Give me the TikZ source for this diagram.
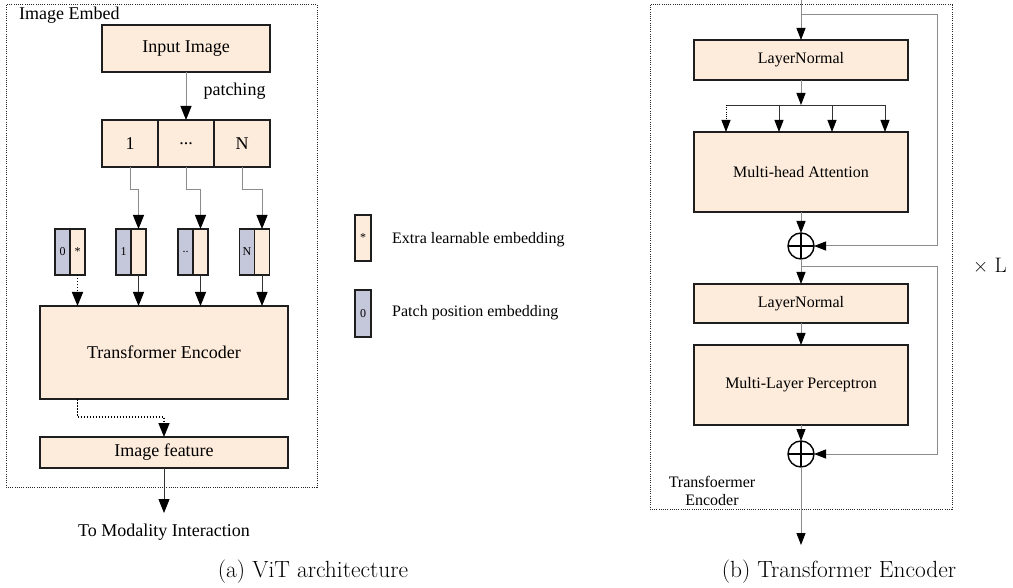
\documentclass[tikz,border=0pt]{standalone}
\usepackage{fontspec}
\setmainfont{Liberation Serif}
\newfontfamily\capfont{Latin Modern Roman}
\usetikzlibrary{arrows.meta}

\definecolor{peach}{HTML}{FDEBDB}
\definecolor{slate}{HTML}{C5C7DA}
\definecolor{edge}{HTML}{1E1E1E}
\definecolor{wire}{HTML}{8C8C8C}

\tikzset{
  box/.style={draw=edge, line width=1.5pt, fill=peach, inner sep=0pt, outer sep=0pt,
    font=\fontsize{18}{20}\selectfont},
  rbox/.style={box, minimum width=214pt, font=\fontsize{16}{18}\selectfont},
  tok/.style={draw=edge, line width=1.3pt, inner sep=0pt, outer sep=0pt,
    minimum width=15pt, minimum height=46pt, font=\fontsize{12}{14}\selectfont},
  tokg/.style={tok, fill=slate},
  tokp/.style={tok, fill=peach},
  frame/.style={draw=black!85, line width=1pt, dash pattern=on 1pt off 1.2pt},
  bigtip/.style={-{Triangle[width=11pt,length=14pt,color=black]}},
  tip/.style={-{Triangle[width=9pt,length=12pt,color=black]}},
  flow/.style={draw=wire, line width=1pt},
  link/.style={draw=black!80, line width=0.9pt},
  dotlink/.style={draw=black, line width=1.6pt, dash pattern=on 1.5pt off 1.5pt},
  thindot/.style={draw=black, line width=1pt, dash pattern=on 1pt off 1.2pt},
  plus/.style={circle, draw=black, line width=1.4pt, minimum size=26pt, inner sep=0pt,
    outer sep=0pt, path picture={
      \draw[line width=1.4pt] (path picture bounding box.north) -- (path picture bounding box.south)
        (path picture bounding box.west) -- (path picture bounding box.east);}},
  txt/.style={inner sep=0pt, font=\fontsize{18}{20}\selectfont},
  stxt/.style={inner sep=0pt, font=\fontsize{16}{18}\selectfont},
  captxt/.style={inner sep=0pt, font=\capfont\fontsize{23.4}{26}\selectfont},
  reptxt/.style={inner sep=0pt, font=\capfont\fontsize{21}{24}\selectfont},
}

\begin{document}
\begin{tikzpicture}[x=1pt, y=-1pt]
\useasboundingbox (0,0) rectangle (1013,588);

% ---------------- ViT: image embedding ----------------
\draw[frame] (6,5) rectangle (317,487);
\node[txt, anchor=base west] (embedlbl) at (19,20) {Image Embed};

\node[box, minimum width=168pt, minimum height=47pt] (input) at (186,48.5) {Input Image};

\node[box, minimum width=56pt, minimum height=47pt] (p1) at (130,143.5) {1};
\node[box, minimum width=56pt, minimum height=47pt] (pd) at (186,143.5) {...};
\node[box, minimum width=56pt, minimum height=47pt] (pN) at (242,143.5) {N};

\draw[flow, bigtip] (input.south) -- (pd.north);
\node[txt] (patchlbl) at (234.5,91) {patching};

% tokens: position half + patch half
\node[tokg] (t0g) at (62.5,252) {0};
\node[tokp] (t0p) at (77.5,252) {*};
\node[tokg] (t1g) at (123.5,252) {1};
\node[tokp] (t1p) at (138.5,252) {};
\node[tokg] (tdg) at (185.5,252) {..};
\node[tokp] (tdp) at (200.5,252) {};
\node[tokg] (tNg) at (247,252) {N};
\node[tokp] (tNp) at (262,252) {};

\draw[flow, bigtip] (p1.south) -- (130,190) -| (t1p.north);
\draw[flow, bigtip] (pd.south) -- (186,190) -| (tdp.north);
\draw[flow, bigtip] (pN.south) -- (242,190) -| (tNp.north);

\node[box, minimum width=248pt, minimum height=93pt] (te) at (164,352.5) {Transformer Encoder};

\draw[dotlink, bigtip] (t0p.south) -- (t0p.south |- te.north);
\draw[link, bigtip] (t1p.south) -- (t1p.south |- te.north);
\draw[link, bigtip] (tdp.south) -- (tdp.south |- te.north);
\draw[link, bigtip] (tNp.south) -- (tNp.south |- te.north);

\node[box, minimum width=248pt, minimum height=31pt] (imgf) at (164,452.5) {Image feature};
\draw[dotlink, bigtip] (t0p.south |- te.south) -- ++(0,18) -| (imgf.north);

\coordinate (out) at (164,513);
\draw[link, bigtip] (imgf.south) -- (out);
\node[txt] (dest) at (164,532) {To Modality Interaction};

% ---------------- legend ----------------
\node[tokp, minimum width=16pt] (lgp) at (363,238) {*};
\node[txt, stxt, anchor=west] (lgptxt) at (392,240) {Extra learnable embedding};
\node[tokg, minimum width=16pt, minimum height=47pt] (lgg) at (363,313.5) {0};
\node[txt, stxt, anchor=west] (lggtxt) at (392,313) {Patch position embedding};

% ---------------- Transformer encoder block ----------------
\draw[frame] (650,5) rectangle (952,509);

\coordinate (entry) at (801,0);
\node[rbox, minimum height=40pt] (ln1) at (801,60) {LayerNormal};
\node[rbox, minimum height=80pt] (mha) at (801,172) {Multi-head Attention};
\node[plus] (add1) at (801,246) {};
\node[rbox, minimum height=39pt] (ln2) at (801,303.5) {LayerNormal};
\node[rbox, minimum height=80pt] (mlp) at (801,385) {Multi-Layer Perceptron};
\node[plus] (add2) at (801,454) {};
\coordinate (exit) at (801,545);

\coordinate (res1) at (801,15);
\coordinate (res2) at (801,267);
\coordinate (split) at (801,105);
\coordinate (h1) at (726,105);
\coordinate (h2) at (779,105);
\coordinate (h3) at (832,105);
\coordinate (h4) at (885,105);

\draw[flow, tip] (entry) -- (ln1.north);
\draw[flow, tip] (res1) -- (937,15) -- (937,246) -- (add1.east);
\draw[flow, tip] (ln1.south) -- (split);
\draw[link] (h1) -- (h4);
\draw[thindot, tip] (h1) -- (h1 |- mha.north);
\draw[link, tip] (h2) -- (h2 |- mha.north);
\draw[link, tip] (h3) -- (h3 |- mha.north);
\draw[link, tip] (h4) -- (h4 |- mha.north);
\draw[flow, tip] (mha.south) -- (add1.north);
\draw[flow, tip] (add1.south) -- (ln2.north);
\draw[flow, tip] (res2) -- (937,267) -- (937,454) -- (add2.east);
\draw[flow, tip] (ln2.south) -- (mlp.north);
\draw[flow, tip] (mlp.south) -- (add2.north);
\draw[flow, tip] (add2.south) -- (exit);

\node[stxt, align=center] (enclbl) at (712,491) {Transfoermer\\Encoder};
\node[reptxt] (rep) at (990,265) {× L};

% ---------------- captions ----------------
\node[captxt] (capa) at (313,572) {(a) ViT architecture};
\node[captxt] (capb) at (839,572) {(b) Transformer Encoder};
\end{tikzpicture}
\end{document}
